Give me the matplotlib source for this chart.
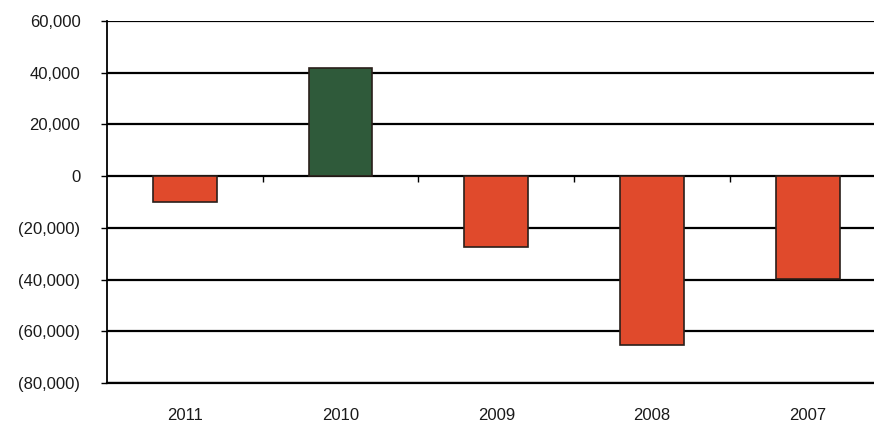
import numpy as np
import matplotlib.pyplot as plt
from matplotlib.ticker import FuncFormatter

years = ["2011", "2010", "2009", "2008", "2007"]
values = [-10000, 42000, -27500, -65300, -39800]
y_ticks = [-80000, -60000, -40000, -20000, 0, 20000, 40000, 60000]

pos_color = "#2f5a3a"
neg_color = "#e04a2c"

plt.rcParams["font.family"] = ["Liberation Sans", "DejaVu Sans"]

fig = plt.figure(figsize=(8.74, 4.23), dpi=100)
# the source chart is cropped on the right, so the axes run past the figure edge
ax = fig.add_axes([0.1222, 0.0946, 0.8913, 0.8558])

x = np.arange(len(years))
colors = [pos_color if v >= 0 else neg_color for v in values]
ax.bar(x, values, width=0.41, color=colors, edgecolor="#2a1f1a", linewidth=1.2, zorder=3)

ax.set_xlim(-0.5, len(years) - 0.5)
ax.set_ylim(y_ticks[0], y_ticks[-1])
ax.set_yticks(y_ticks)


def fmt(v, _):
    if v < 0:
        return f"({abs(v):,.0f})"
    return f"{v:,.0f}"


ax.yaxis.set_major_formatter(FuncFormatter(fmt))
ax.grid(axis="y", color="black", linewidth=1.6, zorder=1)
ax.set_axisbelow(True)

ax.set_xticks(x)
ax.set_xticklabels(years)
ax.tick_params(axis="x", length=0, pad=18, labelsize=12, labelcolor="#1a1a1a")
ax.tick_params(axis="y", length=4, width=1, pad=15, labelsize=12, labelcolor="#1a1a1a")

for s in ["top", "right"]:
    ax.spines[s].set_visible(False)
ax.spines["left"].set_linewidth(1.3)
ax.spines["bottom"].set_linewidth(1.6)

# small category-boundary ticks hanging from the zero line
zero_frac = (0 - y_ticks[0]) / (y_ticks[-1] - y_ticks[0])
sec = ax.secondary_xaxis(zero_frac)
sec.set_xticks(x[:-1] + 0.5)
sec.set_xticklabels([])
sec.tick_params(direction="in", length=4, width=1)
sec.spines["bottom"].set_visible(False)
sec.spines["top"].set_visible(False)

fig.savefig("out.png", dpi=100)
